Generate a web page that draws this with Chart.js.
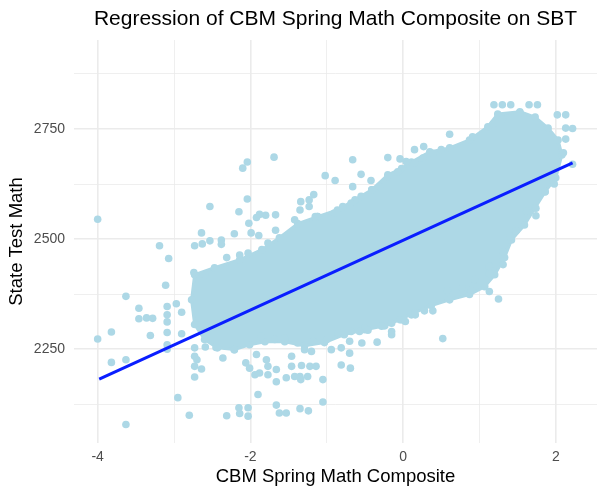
<!DOCTYPE html>
<html>
<head>
<meta charset="utf-8">
<title>Regression of CBM Spring Math Composite on SBT</title>
<script src="https://cdn.jsdelivr.net/npm/chart.js@4.4.1/dist/chart.umd.min.js"></script>
<style>
  html, body { margin: 0; padding: 0; background: #fff; }
  canvas { display: block; }
</style>
</head>
<body>
<canvas id="chart" width="613" height="491"></canvas>
<script>
const TITLE = 'Regression of CBM Spring Math Composite on SBT';
const FONT = "'Liberation Sans', Arial, Helvetica, sans-serif";
const POINT_COLOR = '#add8e6';

// axis ticks (major + minor grid positions)
const xTicks = [-4, -3, -2, -1, 0, 1, 2];
const yTicks = [2125, 2250, 2375, 2500, 2625, 2750, 2875];

// outline of the dense core of the point cloud
const coreX = [-2.77, -2.73, -2.47, -2.14, -1.85, -1.62, -1.38, -1.12, -0.86, -0.63, -0.41, -0.20, -0.02, 0.11, 0.35, 0.61, 0.87, 1.11, 1.24, 1.53, 1.73, 1.90, 2.03, 2.08, 2.00, 1.86, 1.73, 1.59, 1.42, 1.33, 1.20, 1.07, 0.87, 0.61, 0.37, 0.15, -0.04, -0.24, -0.50, -0.77, -1.03, -1.29, -1.55, -1.81, -2.01, -2.21, -2.43, -2.60, -2.73];
const coreY = [2362, 2419, 2435, 2453, 2476, 2503, 2535, 2551, 2566, 2589, 2612, 2646, 2660, 2675, 2698, 2707, 2725, 2755, 2784, 2789, 2777, 2752, 2725, 2691, 2639, 2607, 2571, 2532, 2498, 2458, 2419, 2392, 2374, 2362, 2349, 2333, 2317, 2303, 2294, 2283, 2265, 2258, 2267, 2267, 2260, 2249, 2253, 2272, 2306];

// dots sitting on the rim of the core
const rimX = [-1.12, -0.90, -0.79, -0.68, -0.55, -0.41, -0.31, -0.20, -0.07, 0.04, 0.15, 0.26,
  -1.86, -1.68, -1.55, -1.38, -1.18, -1.00, -0.85, -0.68, -0.50, -0.28, -0.02, 0.11];
const rimY = [2551, 2559, 2574, 2582, 2597, 2612, 2619, 2642, 2653, 2676, 2672, 2684,
  2279, 2272, 2275, 2264, 2268, 2272, 2287, 2290, 2298, 2302, 2317, 2328];

// individual points around the core
const pointX = [
  -4.00, -4.00, -3.82, -3.82, -3.63, -3.63, -3.63, -3.46, -3.46, -3.36, -3.28, -3.31, -3.19, -3.07, -3.11, -3.09, -3.09, -3.09, -3.09, -3.09,
  -3.09, -2.97, -2.90, -2.90, -2.95, -2.80, -2.73, -2.73, -2.73, -2.73, -2.73, -2.70, -2.64, -2.74, -2.60, -2.64, -2.63, -2.53, -2.53, -2.59,
  -2.45, -2.38, -2.38, -2.36, -2.31, -2.31, -2.21, -2.21, -2.15, -2.14, -2.15, -2.14, -2.10, -2.04, -2.04, -2.02, -1.99, -2.03, -2.03, -2.03,
  -2.06, -2.01, -1.94, -1.92, -1.88, -1.80, -1.67, -1.89, -1.77, -1.67, -1.69, -1.92, -1.90, -1.79, -1.77, -1.77, -1.66, -1.66, -1.53, -1.88,
  -1.66, -1.62, -1.53, -1.46, -1.46, -1.42, -1.35, -1.34, -1.33, -1.35, -1.24, -1.29, -1.25, -1.22, -1.20, -1.14, -1.05, -1.05, -0.94, -0.81,
  -0.81, -0.70, -0.69, -0.70, -0.54, -0.34, -0.57, -0.46, -0.15, -0.15, -0.15, 0.03, 0.16, 0.28, 0.39, 0.52, 0.58, 0.77, 0.89, 0.94,
  1.13, 1.13, 1.13, 1.25, 1.31, 1.31, 1.31,
  -1.35, -1.34, -1.23, -1.17, -1.23, -1.42, -1.15, -1.02, -0.89, -0.66, -0.66, -0.55, -0.42, -0.20, -0.04, 0.15, 0.27, 0.39, 0.50, 0.61,
  0.91, 1.18, 1.19, 1.30, 1.41, 1.65, 1.76, 1.53, 1.30, 2.02, 2.13, 2.22, 2.13, 2.13, 2.10, 2.22, 1.97, 1.98, 1.86, 1.74,
  1.74, 1.62, 1.48, 1.40
];
const pointY = [
  2545, 2273, 2289, 2220, 2370, 2226, 2079, 2343, 2319, 2321, 2320, 2281, 2485, 2456, 2395, 2347, 2328, 2312, 2288, 2260,
  2250, 2353, 2334, 2285, 2140, 2100, 2485, 2253, 2234, 2211, 2187, 2226, 2205, 2424, 2419, 2514, 2489, 2574, 2496, 2255,
  2254, 2498, 2488, 2230, 2458, 2099, 2512, 2249, 2562, 2464, 2117, 2104, 2661, 2675, 2591, 2536, 2514, 2468, 2117, 2098,
  2219, 2207, 2192, 2549, 2556, 2554, 2555, 2508, 2491, 2520, 2686, 2238, 2147, 2226, 2211, 2192, 2204, 2176, 2185, 2196,
  2123, 2105, 2105, 2234, 2211, 2188, 2188, 2181, 2213, 2115, 2110, 2249, 2188, 2211, 2245, 2211, 2181, 2130, 2249, 2253,
  2214, 2241, 2207, 2268, 2264, 2266, 2290, 2293, 2309, 2290, 2283, 2313, 2328, 2337, 2337, 2274, 2383, 2389, 2383, 2408,
  2381, 2422, 2438, 2364, 2442, 2457, 2471,
  2566, 2585, 2589, 2601, 2574, 2544, 2551, 2644, 2633, 2680, 2619, 2647, 2633, 2685, 2682, 2703, 2710, 2695, 2703, 2738,
  2732, 2762, 2805, 2805, 2805, 2805, 2805, 2787, 2772, 2782, 2782, 2751, 2752, 2727, 2696, 2670, 2632, 2625, 2608, 2570,
  2553, 2563, 2519, 2506
];

// fitted regression line, ends
const fitX = [-3.98, 2.22];
const fitY = [2182, 2673];

const pairs = (xs, ys) => xs.map((x, i) => ({ x, y: ys[i] }));

// fill the dense core through the chart scales
const cloudCore = {
  id: 'cloudCore',
  beforeDatasetsDraw(chart) {
    const { ctx, scales: { x, y } } = chart;
    ctx.save();
    ctx.beginPath();
    coreX.forEach((v, i) => {
      const px = x.getPixelForValue(v);
      const py = y.getPixelForValue(coreY[i]);
      if (i === 0) ctx.moveTo(px, py); else ctx.lineTo(px, py);
    });
    ctx.closePath();
    ctx.fillStyle = POINT_COLOR;
    ctx.strokeStyle = POINT_COLOR;
    ctx.lineWidth = 3;
    ctx.lineJoin = 'round';
    ctx.fill();
    ctx.stroke();
    ctx.restore();
  }
};

// ggplot-style title centred on the panel
const panelTitle = {
  id: 'panelTitle',
  afterDraw(chart) {
    const { ctx, chartArea } = chart;
    ctx.save();
    ctx.font = `21px ${FONT}`;
    ctx.fillStyle = '#000';
    ctx.textAlign = 'center';
    ctx.textBaseline = 'alphabetic';
    ctx.fillText(TITLE, (chartArea.left + chartArea.right) / 2, 25);
    ctx.restore();
  }
};

const gridColor = '#ebebeb';
const dotStyle = { backgroundColor: POINT_COLOR, borderWidth: 0, pointRadius: 3.8 };

new Chart(document.getElementById('chart'), {
  type: 'scatter',
  data: {
    datasets: [
      {
        type: 'line',
        data: pairs(fitX, fitY),
        borderColor: '#0a1eff',
        borderWidth: 3,
        pointRadius: 0,
        fill: false,
        order: 0
      },
      { data: pairs(pointX, pointY), ...dotStyle, order: 1 },
      { data: pairs(rimX, rimY), ...dotStyle, order: 2 },
      { data: pairs(coreX, coreY), ...dotStyle, order: 3 }
    ]
  },
  options: {
    responsive: false,
    animation: false,
    layout: { padding: { top: 40, right: 16, bottom: 0, left: 0 } },
    plugins: {
      legend: { display: false },
      tooltip: { enabled: false }
    },
    scales: {
      x: {
        type: 'linear',
        min: -4.31,
        max: 2.54,
        afterBuildTicks: (s) => { s.ticks = xTicks.map(v => ({ value: v })); },
        afterFit: (s) => { s.height = 48; },
        border: { display: false },
        grid: {
          drawTicks: false,
          color: gridColor,
          lineWidth: (c) => (c.tick && c.tick.value % 2 === 0 ? 1.6 : 0.8)
        },
        ticks: {
          autoSkip: false,
          maxRotation: 0,
          padding: 6,
          color: '#4d4d4d',
          font: { family: FONT, size: 14 },
          callback: (v) => (v % 2 === 0 ? String(v) : '')
        },
        title: {
          display: true,
          text: 'CBM Spring Math Composite',
          color: '#000',
          font: { family: FONT, size: 18.5 },
          padding: { top: 0, bottom: 3 }
        }
      },
      y: {
        type: 'linear',
        min: 2037,
        max: 2952,
        afterBuildTicks: (s) => { s.ticks = yTicks.map(v => ({ value: v })); },
        afterFit: (s) => { s.width = 74; },
        border: { display: false },
        grid: {
          drawTicks: false,
          color: gridColor,
          lineWidth: (c) => (c.tick && (c.tick.value - 2250) % 250 === 0 ? 1.6 : 0.8)
        },
        ticks: {
          autoSkip: false,
          padding: 9,
          color: '#4d4d4d',
          font: { family: FONT, size: 14 },
          callback: (v) => ((v - 2250) % 250 === 0 ? String(v) : '')
        },
        title: {
          display: true,
          text: 'State Test Math',
          color: '#000',
          font: { family: FONT, size: 18.5 },
          padding: { top: 6, bottom: 0 }
        }
      }
    }
  },
  plugins: [cloudCore, panelTitle]
});
</script>
</body>
</html>
